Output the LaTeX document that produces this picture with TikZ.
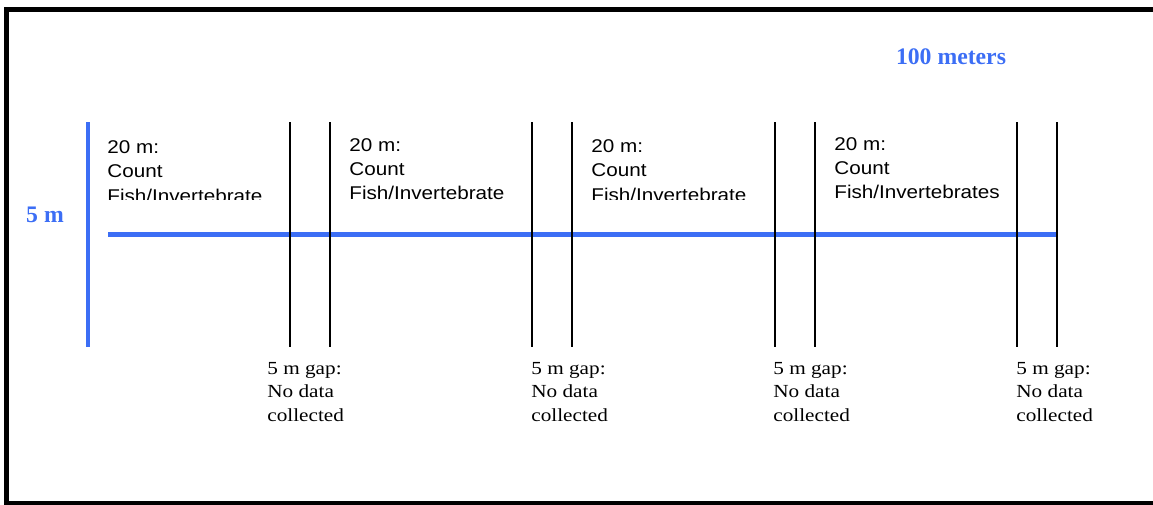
\documentclass[tikz,border=0pt]{standalone}
\usepackage{fontspec}
\setmainfont{Liberation Serif}
\setsansfont{Liberation Sans}
\usetikzlibrary{positioning}
\definecolor{tapeblue}{RGB}{60,110,245}
\tikzset{
    boxframe/.style = {draw=black, line width=2.3pt},
    edgeh/.style = {-, line width=3.2pt, tapeblue},
    edgev/.style = {-, line width=2.2pt, tapeblue},
    edgek/.style = {-, line width=1.2pt, black},
    cntnode/.style = {anchor=north west, inner sep=0pt, align=left, font=\sffamily\fontsize{10.5}{13.6}\selectfont, xscale=1.12, transform shape},
    cntnodew/.style = {cntnode, font=\sffamily\fontsize{10.5}{14}\selectfont},
    gapnode/.style = {anchor=north west, inner sep=0pt, align=left, font=\rmfamily\fontsize{10.5}{13.3}\selectfont, xscale=1.15, transform shape},
    bluelbl/.style = {anchor=base, inner sep=0pt, font=\rmfamily\bfseries\fontsize{13.5}{16}\selectfont, text=tapeblue}
}

\begin{document}
\begin{tikzpicture}[x=0.02cm, y=-0.02cm]
\useasboundingbox (0,0) rectangle (1153,504);
\clip (0,0) rectangle (1153,504);
%
\coordinate (fr1) at (6.5,9.5);
\coordinate (fr2) at (1170,503.5);
\draw[boxframe] (fr1) rectangle (fr2);
%
\node[bluelbl] at (951,64) (len) {100 meters};
\node[bluelbl] at (45,222) (wid) {5 m};
%
\coordinate (wt) at (88,122);
\coordinate (wb) at (88,347);
\coordinate (ls) at (108,234.5);
\coordinate (le) at (1058,234.5);
\draw[edgev] (wt) -- (wb);
\draw[edgeh] (ls) -- (le);
%
\coordinate (a1) at (290,122); \coordinate (a2) at (290,347);
\coordinate (b1) at (330,122); \coordinate (b2) at (330,347);
\coordinate (c1) at (532,122); \coordinate (c2) at (532,347);
\coordinate (d1) at (572,122); \coordinate (d2) at (572,347);
\coordinate (e1) at (775,122); \coordinate (e2) at (775,347);
\coordinate (f1) at (815,122); \coordinate (f2) at (815,347);
\coordinate (g1) at (1017,122); \coordinate (g2) at (1017,347);
\coordinate (h1) at (1057,122); \coordinate (h2) at (1057,347);
\draw[edgek] (a1) -- (a2);
\draw[edgek] (b1) -- (b2);
\draw[edgek] (c1) -- (c2);
\draw[edgek] (d1) -- (d2);
\draw[edgek] (e1) -- (e2);
\draw[edgek] (f1) -- (f2);
\draw[edgek] (g1) -- (g2);
\draw[edgek] (h1) -- (h2);
%
\begin{scope}
\clip (100,120) rectangle (285,199.5);
\node[cntnodew] at (107,140) (cnt1) {20 m:\\Count\\Fish/Invertebrate};
\end{scope}
\node[cntnode] at (349,138) (cnt2) {20 m:\\Count\\Fish/Invertebrate};
\begin{scope}
\clip (585,120) rectangle (770,199.5);
\node[cntnodew] at (591,139) (cnt3) {20 m:\\Count\\Fish/Invertebrate};
\end{scope}
\node[cntnode] at (834,137) (cnt4) {20 m:\\Count\\Fish/Invertebrates};
%
\node[gapnode] at (267,362) (gap1) {5 m gap:\\No data\\collected};
\node[gapnode] at (531,362) (gap2) {5 m gap:\\No data\\collected};
\node[gapnode] at (773,362) (gap3) {5 m gap:\\No data\\collected};
\node[gapnode] at (1016,362) (gap4) {5 m gap:\\No data\\collected};
\end{tikzpicture}
\end{document}
